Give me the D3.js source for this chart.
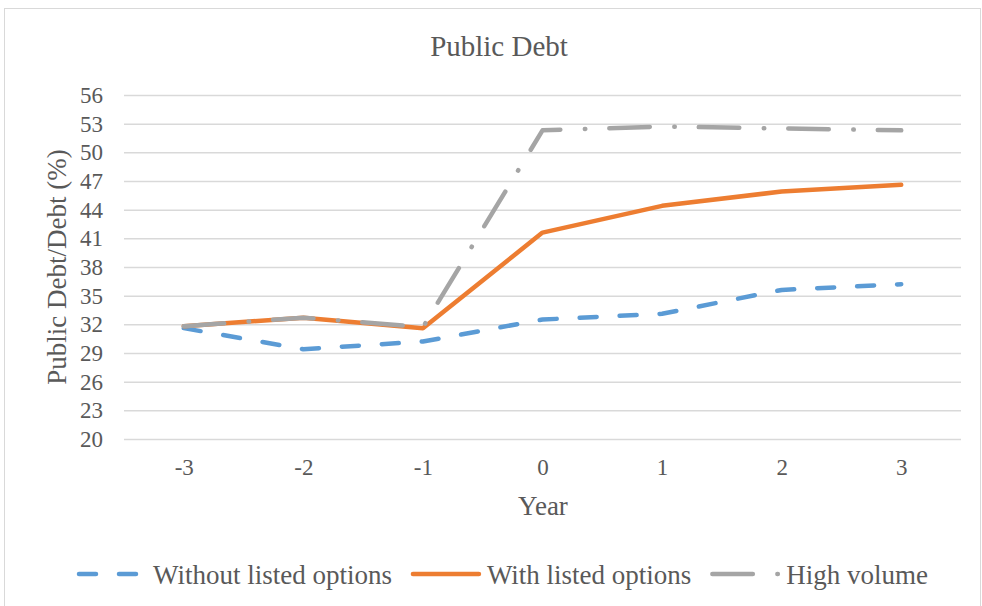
<!DOCTYPE html>
<html>
<head>
<meta charset="utf-8">
<script src="https://cdn.jsdelivr.net/npm/d3@7"></script>
<style>
  body { margin: 0; background: #fff; }
  text { font-family: "Liberation Serif", "Times New Roman", serif; fill: #595959; }
</style>
</head>
<body>
<div id="debt_plot"></div>
<script>
// data
var years = [-3, -2, -1, 0, 1, 2, 3];
var withoutOptions = [31.6, 29.4, 30.2, 32.5, 33.1, 35.6, 36.2];
var withOptions = [31.8, 32.7, 31.6, 41.6, 44.4, 45.9, 46.6];
var highVolume = [31.8, 32.7, 31.7, 52.3, 52.7, 52.5, 52.3];
var yTicks = [20, 23, 26, 29, 32, 35, 38, 41, 44, 47, 50, 53, 56];
var seriesNames = ["Without listed options", "With listed options", "High volume"];

var width = 982, height = 606;
var plotLeft = 124, plotRight = 961, plotTop = 95, plotBottom = 439;

var svg = d3.select("#debt_plot")
    .append("svg")
      .attr("width", width)
      .attr("height", height);

// chart border
svg.append("rect")
    .attr("x", 4.5)
    .attr("y", 8.5)
    .attr("width", 976)
    .attr("height", 610)
    .attr("fill", "none")
    .attr("stroke", "#d9d9d9")
    .attr("stroke-width", 1);

var x = d3.scalePoint()
    .domain(years)
    .range([plotLeft, plotRight])
    .padding(0.5);

var y = d3.scaleLinear()
    .domain([20, 56])
    .range([plotBottom, plotTop]);

// gridlines + y labels
svg.append("g")
    .attr("transform", "translate(" + plotLeft + ",0)")
    .call(d3.axisLeft(y)
        .tickValues(yTicks)
        .tickSize(-(plotRight - plotLeft))
        .tickPadding(21)
    )
    .call(g => g.select(".domain").remove())
    .call(g => g.selectAll(".tick line")
        .attr("stroke", "#d9d9d9")
        .attr("stroke-width", 1.5))
    .call(g => g.selectAll(".tick text")
        .attr("fill", "#595959")
        .style("font-size", "23px")
        .attr("dy", "0.33em"));

// x labels
svg.append("g")
    .attr("transform", "translate(0," + plotBottom + ")")
    .call(d3.axisBottom(x)
        .tickSize(0)
        .tickPadding(0)
    )
    .call(g => g.select(".domain").remove())
    .call(g => g.selectAll(".tick text")
        .attr("fill", "#595959")
        .style("font-size", "23px")
        .attr("y", 36)
        .attr("dy", 0));

// titles
svg.append("text")
    .attr("x", 499)
    .attr("y", 56)
    .style("text-anchor", "middle")
    .style("font-size", "29px")
    .text("Public Debt");

svg.append("text")
    .attr("x", 543)
    .attr("y", 515)
    .style("text-anchor", "middle")
    .style("font-size", "27px")
    .text("Year");

svg.append("text")
    .attr("transform", "translate(66," + ((plotTop + plotBottom) / 2) + ") rotate(-90)")
    .style("text-anchor", "middle")
    .style("font-size", "27px")
    .text("Public Debt/Debt (%)");

// series styles
var styles = [
    {color: "#5b9bd5", dash: "17 23"},
    {color: "#ed7d31", dash: null},
    {color: "#a5a5a5", dash: "40.5 24.5 0.5 24"}
];
var allSeries = [withoutOptions, withOptions, highVolume];

var line = d3.line()
    .x(function(d, i) { return x(years[i]); })
    .y(function(d) { return y(d); });

allSeries.forEach(function(values, i) {
    svg.append("path")
        .datum(values)
        .attr("fill", "none")
        .attr("stroke", styles[i].color)
        .attr("stroke-width", 4.5)
        .attr("stroke-linecap", "round")
        .attr("stroke-linejoin", "round")
        .attr("stroke-dasharray", styles[i].dash)
        .attr("d", line);
});

// legend
var legend = svg.append("g");
var lx = 79, ly = 574;
seriesNames.forEach(function(name, i) {
    legend.append("line")
        .attr("x1", lx)
        .attr("x2", lx + 66)
        .attr("y1", ly)
        .attr("y2", ly)
        .attr("stroke", styles[i].color)
        .attr("stroke-width", 4.5)
        .attr("stroke-linecap", "round")
        .attr("stroke-dasharray", styles[i].dash);
    var t = legend.append("text")
        .attr("x", lx + 74)
        .attr("y", ly + 10)
        .style("font-size", "27px")
        .text(name);
    lx = lx + 74 + t.node().getComputedTextLength() + 21;
});
</script>
</body>
</html>
